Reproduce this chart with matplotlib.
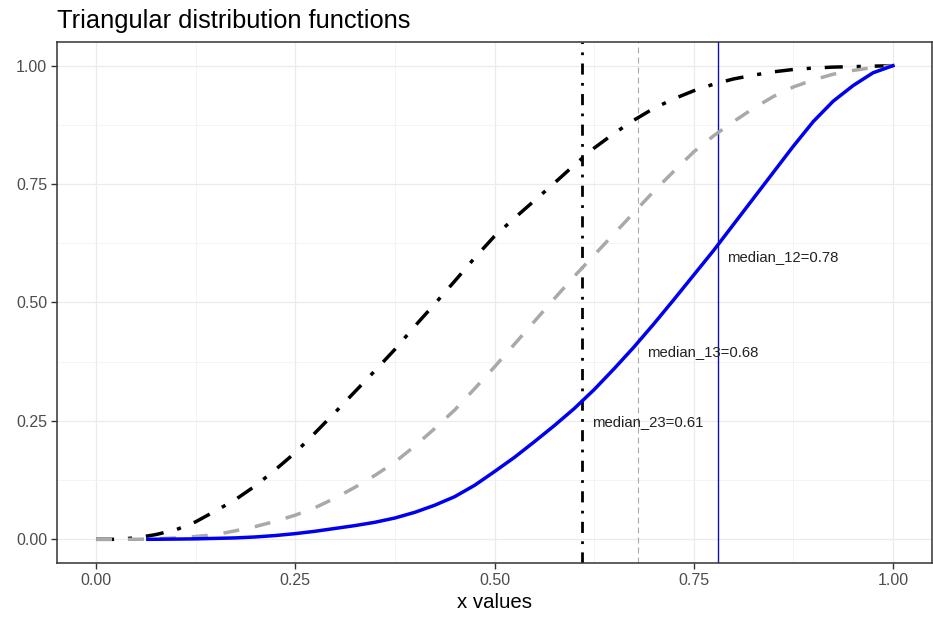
import matplotlib
matplotlib.use("Agg")
import matplotlib.pyplot as plt
from matplotlib.ticker import MultipleLocator

plt.rcParams['font.family'] = ['Liberation Sans', 'DejaVu Sans']
plt.rcParams['lines.scale_dashes'] = False

# ---- data ----
x_vals = [0.000, 0.025, 0.050, 0.075, 0.100, 0.125, 0.150, 0.175, 0.200, 0.225,
          0.250, 0.275, 0.300, 0.325, 0.350, 0.375, 0.400, 0.425, 0.450, 0.475,
          0.500, 0.525, 0.550, 0.575, 0.600, 0.625, 0.650, 0.675, 0.700, 0.725,
          0.750, 0.775, 0.800, 0.825, 0.850, 0.875, 0.900, 0.925, 0.950, 0.975,
          1.000]
cdf_23 = [0.0, 0.0, 0.003, 0.010, 0.020, 0.037, 0.060, 0.084, 0.113, 0.147,
          0.183, 0.225, 0.268, 0.312, 0.356, 0.401, 0.450, 0.497, 0.545, 0.594,
          0.640, 0.678, 0.715, 0.752, 0.790, 0.826, 0.857, 0.885, 0.910, 0.930,
          0.947, 0.961, 0.972, 0.980, 0.987, 0.992, 0.995, 0.997, 0.998, 0.999,
          1.0]
cdf_13 = [0.0, 0.0, 0.0, 0.001, 0.003, 0.006, 0.010, 0.018, 0.027, 0.038,
          0.051, 0.067, 0.087, 0.110, 0.135, 0.163, 0.197, 0.234, 0.273, 0.318,
          0.364, 0.412, 0.460, 0.508, 0.555, 0.600, 0.645, 0.690, 0.735, 0.777,
          0.818, 0.852, 0.882, 0.910, 0.935, 0.955, 0.970, 0.982, 0.990, 0.996,
          1.0]
x_blue = [0.065, 0.100, 0.125, 0.150, 0.175, 0.200, 0.225,
          0.250, 0.275, 0.300, 0.325, 0.350, 0.375, 0.400, 0.425, 0.450, 0.475,
          0.500, 0.525, 0.550, 0.575, 0.600, 0.625, 0.650, 0.675, 0.700, 0.725,
          0.750, 0.775, 0.800, 0.825, 0.850, 0.875, 0.900, 0.925, 0.950, 0.975,
          1.000]
cdf_12 = [0.0, 0.0005, 0.001, 0.002, 0.003, 0.005, 0.008,
          0.012, 0.017, 0.023, 0.029, 0.036, 0.045, 0.057, 0.072, 0.090, 0.114,
          0.143, 0.173, 0.206, 0.240, 0.276, 0.316, 0.360, 0.406, 0.455, 0.506,
          0.558, 0.610, 0.665, 0.720, 0.775, 0.830, 0.882, 0.925, 0.958, 0.985,
          1.0]

median_names = ["median_23", "median_13", "median_12"]
median_vals = [0.61, 0.68, 0.78]
label_y = [0.247, 0.395, 0.597]

x_ticks = [0.00, 0.25, 0.50, 0.75, 1.00]
y_ticks = [0.00, 0.25, 0.50, 0.75, 1.00]
tick_labels = ["0.00", "0.25", "0.50", "0.75", "1.00"]

# ---- figure ----
fig = plt.figure(figsize=(9.33, 6.18), dpi=100)
ax = fig.add_axes([57/933, 1 - 563/618, (932 - 57)/933, (563 - 42)/618])

ax.set_xlim(-0.049, 1.049)
ax.set_ylim(-0.05, 1.05)

ax.xaxis.set_minor_locator(MultipleLocator(0.125))
ax.yaxis.set_minor_locator(MultipleLocator(0.125))
ax.set_xticks(x_ticks)
ax.set_xticklabels(tick_labels)
ax.set_yticks(y_ticks)
ax.set_yticklabels(tick_labels)
ax.grid(which='major', color='#EBEBEB', linewidth=0.9, zorder=0)
ax.grid(which='minor', color='#F2F2F2', linewidth=0.6, zorder=0)
ax.set_axisbelow(True)
ax.tick_params(which='minor', length=0)
ax.tick_params(which='major', length=4, width=1, color='#333333',
               labelsize=11.5, labelcolor='#4D4D4D', pad=3)
for s in ax.spines.values():
    s.set_color('#333333')
    s.set_linewidth(1.1)

# curves
ax.plot(x_vals, cdf_23, color='black', linewidth=2.5,
        linestyle=(0, (13, 10, 3, 10)), zorder=3)
ax.plot(x_vals, cdf_13, color='#A9A9A9', linewidth=2.5,
        linestyle=(0, (11.5, 11.5)), zorder=3)
ax.plot(x_blue, cdf_12, color='#0000EE', linewidth=2.5, zorder=3)

# median lines
ax.axvline(median_vals[0], color='black', linewidth=2.0,
           linestyle=(0, (8, 6, 2, 6)), zorder=2)
ax.axvline(median_vals[1], color='#A9A9A9', linewidth=0.8,
           linestyle=(0, (4.3, 2.9)), zorder=2)
ax.axvline(median_vals[2], color='#1010B0', linewidth=1.0, zorder=2)

for name, mv, ly in zip(median_names, median_vals, label_y):
    ax.text(mv + 0.012, ly, f"{name}={mv:.2f}", fontsize=10.7,
            color='#222222', ha='left', va='center', zorder=4)

ax.set_xlabel("x values", fontsize=14.7, color='black', labelpad=4)

fig.text(57/933, 1 - 28/618, "Triangular distribution functions",
         fontsize=18.3, color='black', ha='left', va='baseline')

fig.savefig("out.png", dpi=100)
